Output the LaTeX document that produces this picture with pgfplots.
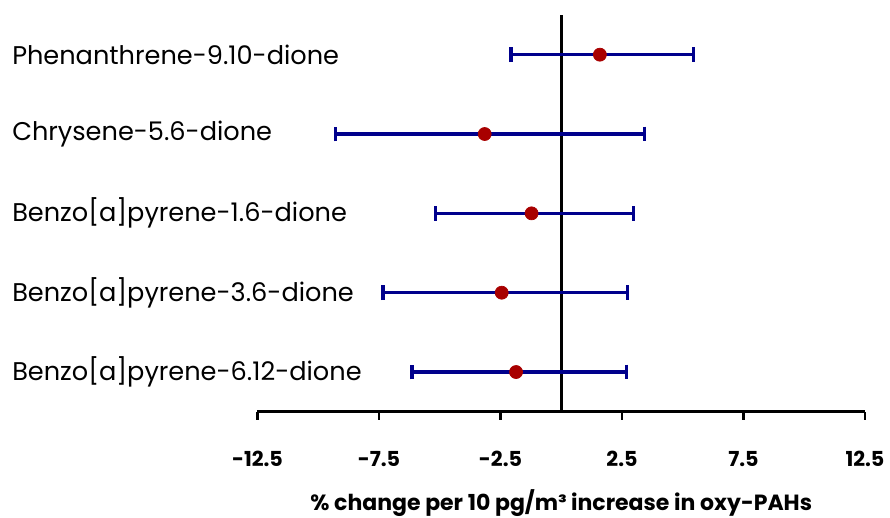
\documentclass[border=0pt]{standalone}
\usepackage{pgfplots}
\pgfplotsset{compat=1.18}
\usepackage{pgfplotstable}
\usepackage{fontspec}
\setmainfont{Poppins}

\definecolor{barblue}{RGB}{0,0,140}
\definecolor{dotred}{RGB}{168,0,0}

% estimate, lower and upper bound of the interval; row 5 is drawn on top
\pgfplotstableread{
y  est    lo     hi
5  1.59  -2.07   5.44
4 -3.15  -9.28   3.42
3 -1.22  -5.18   2.97
2 -2.45  -7.34   2.72
1 -1.86  -6.14   2.69
}\oxydata

\begin{document}
\begin{tikzpicture}
\begin{axis}[
  name=main,
  at={(0,0)}, anchor=south west,
  scale only axis,
  width=455.6pt, height=297.5pt,
  xmin=-12.5, xmax=12.5,
  ymin=0.5, ymax=5.5,
  axis x line=bottom,
  axis y line=none,
  axis line style={-, line width=2.2pt, black},
  xtick={-12.5,-7.5,-2.5,2.5,7.5,12.5},
  xticklabels={-12.5,-7.5,-2.5,2.5,7.5,12.5},
  tick align=outside,
  major tick length=6pt,
  xtick style={line width=2.2pt, black},
  xticklabel style={font=\bfseries\fontsize{15.5}{18}\selectfont, yshift=-20pt},
  xlabel={\% change per 10 pg/m³ increase in oxy-PAHs},
  xlabel style={font=\bfseries\fontsize{16.5}{19}\selectfont, yshift=-10pt},
  /pgf/number format/assume math mode=true,
  clip=false,
]
\addplot[black, line width=2.2pt] coordinates {(0,0.5) (0,5.5)};
\addplot[
  only marks,
  mark=*, mark size=4.9pt,
  mark options={fill=dotred, draw=dotred, line width=0.5pt},
  error bars/.cd,
    x dir=both, x explicit,
    error mark=|,
    error bar style={line width=2.5pt, barblue},
    error mark options={line width=2.5pt, barblue, mark size=5.5pt},
] table[
  x=est, y=y,
  x error plus expr=\thisrow{hi}-\thisrow{est},
  x error minus expr=\thisrow{est}-\thisrow{lo},
] {\oxydata};
\end{axis}
% category names, left aligned
\begin{scope}[every node/.style={anchor=west, inner sep=0pt, font=\fontsize{19.2}{22}\selectfont}]
\node at (-184.1pt,267.75pt) {Phenanthrene-9.10-dione};
\node at (-184.1pt,208.25pt) {Chrysene-5.6-dione};
\node at (-184.1pt,148.75pt) {Benzo[a]pyrene-1.6-dione};
\node at (-184.1pt,89.25pt) {Benzo[a]pyrene-3.6-dione};
\node at (-184.1pt,29.75pt) {Benzo[a]pyrene-6.12-dione};
\end{scope}
\pgfresetboundingbox
\path (-193.1pt,-79.7pt) rectangle (474.35pt,308.75pt);
\end{tikzpicture}
\end{document}
